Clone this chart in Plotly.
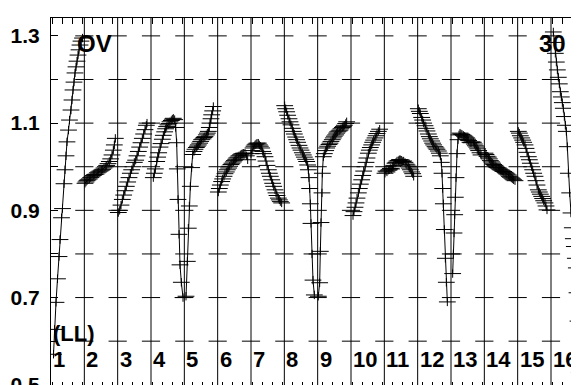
import plotly.graph_objects as go

# ---- data (x in panel units: panel k spans [k-1, k]) ----
x01 = [0.075,0.105,0.15,0.195,0.24,0.27,0.315,0.345,0.39,0.42,0.45,0.48,0.525,0.555,0.6,0.63,0.66,0.69,0.72,0.75,0.78,0.81,0.84,0.87,0.9,0.945]
y01 = [0.570,0.627,0.689,0.743,0.794,0.833,0.883,0.904,0.961,0.993,1.025,1.057,1.084,1.107,1.130,1.153,1.176,1.194,1.215,1.229,1.242,1.256,1.268,1.279,1.288,1.295]
x02 = [1.02,1.05,1.08,1.11,1.15,1.19,1.23,1.27,1.31,1.35,1.39,1.43,1.47,1.51,1.55,1.59,1.63,1.67,1.71,1.75,1.79,1.83,1.87,1.90,1.93]
y02 = [0.962,0.965,0.968,0.970,0.972,0.975,0.977,0.980,0.982,0.983,0.986,0.988,0.990,0.992,0.994,0.997,1.000,1.003,1.007,1.012,1.018,1.027,1.038,1.050,1.065]
x03 = [2.02,2.06,2.10,2.14,2.18,2.22,2.26,2.30,2.34,2.38,2.42,2.46,2.50,2.54,2.58,2.62,2.66,2.70,2.74,2.78,2.82,2.86,2.88]
y03 = [0.895,0.900,0.912,0.925,0.935,0.945,0.955,0.965,0.975,0.985,0.993,1.000,1.010,1.015,1.025,1.035,1.045,1.055,1.065,1.075,1.085,1.095,1.100]
x04 = [3.07,3.10,3.13,3.17,3.20,3.23,3.27,3.30,3.34,3.37,3.41,3.44,3.47,3.51,3.54,3.57,3.61,3.64,3.67,3.71,3.74,3.77,3.79,3.81,3.84,3.87,3.91,3.96]
y04 = [0.975,0.985,0.995,1.012,1.022,1.032,1.045,1.053,1.063,1.072,1.080,1.087,1.092,1.096,1.099,1.103,1.106,1.109,1.111,1.108,1.090,1.055,0.995,0.925,0.845,0.775,0.735,0.700]
x05 = [4.05,4.09,4.12,4.15,4.18,4.22,4.25,4.29,4.32,4.36,4.39,4.42,4.46,4.49,4.52,4.56,4.59,4.62,4.66,4.69,4.72,4.75,4.77,4.80,4.82,4.85,4.87]
y05 = [0.703,0.783,0.859,0.910,0.955,0.998,1.028,1.035,1.040,1.044,1.047,1.050,1.054,1.058,1.062,1.064,1.067,1.069,1.073,1.077,1.081,1.090,1.100,1.110,1.119,1.128,1.138]
x06 = [5.02,5.05,5.08,5.12,5.15,5.19,5.22,5.26,5.29,5.33,5.36,5.40,5.43,5.47,5.50,5.54,5.57,5.61,5.64,5.68,5.71,5.75,5.78,5.82,5.86,5.90]
y06 = [0.942,0.950,0.958,0.966,0.972,0.978,0.984,0.988,0.993,0.997,1.001,1.005,1.008,1.011,1.014,1.017,1.020,1.022,1.025,1.027,1.029,1.030,1.031,1.031,1.025,1.016]
x07 = [6.00,6.03,6.06,6.09,6.12,6.15,6.18,6.22,6.25,6.28,6.32,6.35,6.38,6.42,6.45,6.48,6.52,6.55,6.58,6.62,6.65,6.68,6.72,6.75,6.78,6.82,6.85,6.88,6.92]
y07 = [1.030,1.037,1.043,1.047,1.050,1.052,1.054,1.054,1.050,1.047,1.043,1.035,1.030,1.023,1.013,1.003,0.993,0.985,0.978,0.970,0.962,0.955,0.947,0.940,0.934,0.928,0.924,0.920,0.917]
x08 = [7.01,7.04,7.07,7.10,7.14,7.17,7.20,7.24,7.27,7.30,7.34,7.37,7.40,7.44,7.47,7.50,7.54,7.57,7.60,7.64,7.67,7.70,7.72,7.74,7.76,7.78,7.80,7.83,7.86,7.90]
y08 = [1.140,1.133,1.126,1.118,1.110,1.103,1.096,1.088,1.081,1.075,1.068,1.062,1.056,1.049,1.043,1.038,1.032,1.027,1.022,1.017,1.012,1.004,0.993,0.975,0.950,0.915,0.870,0.800,0.740,0.706]
x09 = [8.02,8.06,8.08,8.10,8.13,8.14,8.17,8.20,8.24,8.27,8.30,8.34,8.37,8.40,8.44,8.47,8.50,8.54,8.57,8.60,8.64,8.67,8.70,8.74,8.77,8.80,8.84,8.87]
y09 = [0.703,0.734,0.806,0.872,0.940,0.985,1.023,1.030,1.037,1.043,1.047,1.051,1.054,1.058,1.062,1.066,1.070,1.073,1.077,1.080,1.082,1.084,1.087,1.090,1.092,1.095,1.099,1.103]
x10 = [9.06,9.09,9.12,9.15,9.18,9.22,9.25,9.28,9.32,9.35,9.38,9.42,9.45,9.48,9.52,9.55,9.58,9.62,9.65,9.68,9.72,9.75,9.78,9.82,9.86]
y10 = [0.888,0.897,0.907,0.917,0.928,0.940,0.950,0.960,0.970,0.980,0.990,1.000,1.010,1.020,1.031,1.038,1.044,1.050,1.056,1.061,1.066,1.071,1.076,1.081,1.086]
x11 = [10.02,10.05,10.08,10.12,10.15,10.18,10.22,10.25,10.28,10.32,10.35,10.38,10.42,10.45,10.48,10.52,10.55,10.58,10.62,10.65,10.68,10.72,10.75,10.78,10.82,10.85,10.88]
y11 = [0.985,0.990,0.988,0.992,0.993,0.996,0.995,1.000,1.003,1.008,1.010,1.013,1.014,1.016,1.016,1.015,1.012,1.013,1.010,1.006,1.004,1.001,0.997,0.993,0.988,0.984,0.978]
x12 = [11.02,11.05,11.08,11.12,11.15,11.18,11.22,11.25,11.28,11.32,11.35,11.38,11.42,11.45,11.48,11.52,11.55,11.58,11.62,11.65,11.68,11.71,11.73,11.75,11.77,11.80,11.83,11.86,11.89]
y12 = [1.133,1.127,1.122,1.113,1.107,1.100,1.094,1.088,1.082,1.075,1.069,1.064,1.059,1.054,1.050,1.046,1.043,1.040,1.036,1.031,1.025,1.010,0.985,0.950,0.915,0.856,0.790,0.735,0.690]
x13 = [12.05,12.07,12.09,12.11,12.13,12.15,12.18,12.21,12.24,12.27,12.30,12.33,12.37,12.40,12.43,12.47,12.50,12.53,12.57,12.60,12.63,12.67,12.70,12.73,12.77,12.80,12.83,12.87,12.90]
y13 = [0.755,0.800,0.848,0.890,0.930,0.975,1.030,1.062,1.073,1.077,1.075,1.074,1.072,1.070,1.068,1.066,1.063,1.060,1.056,1.055,1.057,1.056,1.052,1.048,1.045,1.041,1.037,1.032,1.027]
x14 = [13.02,13.05,13.08,13.12,13.15,13.18,13.22,13.25,13.28,13.32,13.35,13.38,13.42,13.45,13.48,13.52,13.55,13.58,13.62,13.65,13.68,13.72,13.75,13.78,13.82,13.85,13.88,13.92]
y14 = [1.031,1.028,1.024,1.022,1.018,1.014,1.011,1.008,1.005,1.003,1.000,0.998,0.997,0.995,0.993,0.992,0.990,0.989,0.987,0.985,0.983,0.981,0.978,0.976,0.974,0.972,0.970,0.968]
x15 = [14.02,14.05,14.08,14.12,14.15,14.18,14.22,14.25,14.28,14.32,14.35,14.38,14.42,14.45,14.48,14.52,14.55,14.58,14.62,14.65,14.68,14.72,14.75,14.78,14.82,14.85,14.88]
y15 = [1.081,1.077,1.071,1.066,1.061,1.056,1.050,1.042,1.033,1.023,1.016,1.008,1.000,0.993,0.985,0.978,0.968,0.958,0.947,0.942,0.937,0.932,0.927,0.922,0.917,0.910,0.901]
x16 = [15.07,15.10,15.13,15.16,15.19,15.22,15.25,15.28,15.31,15.34,15.37,15.40,15.43,15.46,15.49,15.52,15.56,15.60,15.64,15.67,15.70,15.73,15.76,15.78,15.81,15.85]
y16 = [1.309,1.285,1.260,1.240,1.222,1.205,1.190,1.172,1.160,1.147,1.134,1.115,1.095,1.081,1.046,0.985,0.940,0.894,0.860,0.835,0.817,0.790,0.768,0.711,0.646,0.528]

panel_labels = [str(i) for i in range(1, 17)]
panel_edges = list(range(1, 16))
cross_levels = [0.6, 0.7, 0.8, 0.9, 1.0, 1.1, 1.2, 1.3]
y_tick_vals = [0.5, 0.7, 0.9, 1.1, 1.3]
y_tick_text = ["0.5", "0.7", "0.9", "1.1", "1.3"]

xs_all = [x01,x02,x03,x04,x05,x06,x07,x08,x09,x10,x11,x12,x13,x14,x15,x16]
ys_all = [y01,y02,y03,y04,y05,y06,y07,y08,y09,y10,y11,y12,y13,y14,y15,y16]

line_x, line_y = [], []
for xs, ys in zip(xs_all, ys_all):
    line_x += xs + [None]
    line_y += ys + [None]

FONT = "Liberation Sans, Arial, sans-serif"
fig = go.Figure()

# grid crosses on panel dividers
gx = [e for e in panel_edges for _ in cross_levels]
gy = [c for _ in panel_edges for c in cross_levels]
fig.add_trace(go.Scatter(x=gx, y=gy, mode="markers", hoverinfo="skip",
                         marker=dict(symbol="line-ew", size=13, color="black",
                                     line=dict(color="black", width=1))))

fig.add_trace(go.Scatter(x=line_x, y=line_y, mode="lines",
                         line=dict(color="black", width=1)))
fig.add_trace(go.Scatter(x=line_x, y=line_y, mode="markers",
                         marker=dict(symbol="line-ew", size=12, color="black",
                                     line=dict(color="black", width=1))))
fig.add_trace(go.Scatter(x=line_x, y=line_y, mode="markers",
                         marker=dict(symbol="line-ns", size=6, color="black",
                                     line=dict(color="black", width=1))))
# dummy for top axis
fig.add_trace(go.Scatter(x=[None], y=[None], xaxis="x2", showlegend=False))

for e in panel_edges:
    fig.add_shape(type="line", x0=e, x1=e, y0=0, y1=1, xref="x", yref="paper",
                  line=dict(color="black", width=1), layer="below")

for i, lab in enumerate(panel_labels):
    fig.add_annotation(x=i, y=0.557, text=lab, showarrow=False, xanchor="left",
                       yanchor="middle", xshift=0,
                       font=dict(family=FONT, size=22, color="black", weight="bold"))

fig.add_annotation(x=0, y=0.617, text="(LL)", showarrow=False, xanchor="left", yanchor="middle",
                   font=dict(family=FONT, size=22, color="black", weight="bold"))
fig.add_annotation(x=0.72, y=1.283, text="OV", showarrow=False, xanchor="left", yanchor="middle",
                   font=dict(family=FONT, size=24, color="black", weight="bold"))
fig.add_annotation(x=14.57, y=1.283, text="30", showarrow=False, xanchor="left", yanchor="middle",
                   font=dict(family=FONT, size=24, color="black", weight="bold"))

# page body has an 8px default margin, so the figure is offset by 8px
fig.update_layout(
    width=571, height=377, margin=dict(l=43, r=0, t=10, b=0, autoexpand=False),
    paper_bgcolor="white", plot_bgcolor="white", showlegend=False,
    xaxis=dict(range=[0, 15.84], showgrid=False, zeroline=False, showline=False,
               ticks="inside", tick0=0.05, dtick=0.3, ticklen=3, tickcolor="black",
               showticklabels=False),
    xaxis2=dict(overlaying="x", matches="x", side="top", showgrid=False, zeroline=False,
                showline=True, linecolor="black", linewidth=1,
                ticks="inside", tick0=0.05, dtick=0.3, ticklen=6, tickcolor="black",
                showticklabels=False),
    yaxis=dict(range=[0.4995, 1.341], showgrid=False, zeroline=False, showline=True,
               linecolor="black", linewidth=1, ticks="inside", ticklen=7, tickcolor="black",
               tickvals=y_tick_vals, ticktext=y_tick_text, ticklabelstandoff=6,
               ticklabeloverflow="allow",
               tickfont=dict(family=FONT, size=21, color="black", weight="bold"),
               minor=dict(ticks="inside", ticklen=7, dtick=0.1, tick0=0.5, tickcolor="black")),
)

fig.write_html("out.html")
